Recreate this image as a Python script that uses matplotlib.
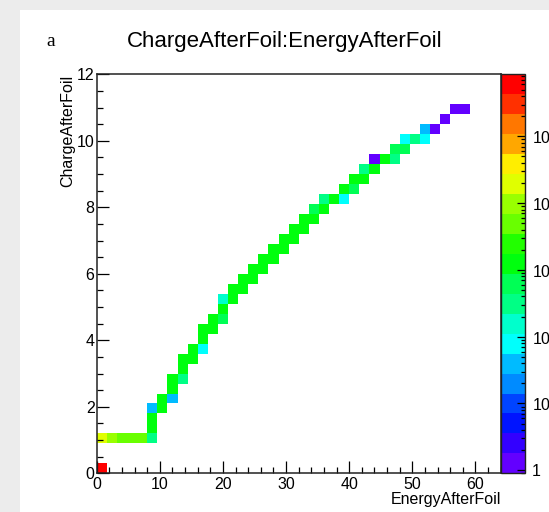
import colorsys
import numpy as np
import matplotlib
matplotlib.use("Agg")
import matplotlib.pyplot as plt
from matplotlib.colors import ListedColormap, LogNorm
from matplotlib.patches import Rectangle
from matplotlib.ticker import MultipleLocator, LogLocator, FuncFormatter, NullFormatter

plt.rcParams['font.family'] = ['Liberation Sans', 'DejaVu Sans']
plt.rcParams['mathtext.fontset'] = 'custom'
plt.rcParams['mathtext.rm'] = 'Liberation Sans'
plt.rcParams['mathtext.it'] = 'Liberation Sans:italic'
plt.rcParams['mathtext.default'] = 'regular'

# ---- data (bin centres and bin contents) ----
energy = [0.8, 0.8, 2.4, 4.0, 5.6, 7.2, 8.8, 8.8, 8.8, 8.8,
          10.4, 10.4, 12.0, 12.0, 12.0, 13.6, 13.6, 13.6, 15.2, 15.2,
          16.8, 16.8, 16.8, 18.4, 18.4, 20.0, 20.0, 20.0, 21.6, 21.6,
          23.2, 23.2, 24.8, 24.8, 26.4, 26.4, 28.0, 28.0, 29.6, 29.6,
          31.2, 31.2, 32.8, 32.8, 34.4, 34.4, 36.0, 36.0, 37.6, 39.2,
          39.2, 40.8, 40.8, 42.4, 42.4, 44.0, 44.0, 45.6, 47.2, 47.2,
          48.8, 48.8, 50.4, 52.0, 52.0, 53.6, 55.2, 56.8, 58.4]
charge = [0.15, 1.05, 1.05, 1.05, 1.05, 1.05, 1.05, 1.35, 1.65, 1.95,
          1.95, 2.25, 2.25, 2.55, 2.85, 2.85, 3.15, 3.45, 3.45, 3.75,
          3.75, 4.05, 4.35, 4.35, 4.65, 4.65, 4.95, 5.25, 5.25, 5.55,
          5.55, 5.85, 5.85, 6.15, 6.15, 6.45, 6.45, 6.75, 6.75, 7.05,
          7.05, 7.35, 7.35, 7.65, 7.65, 7.95, 7.95, 8.25, 8.25, 8.25,
          8.55, 8.55, 8.85, 8.85, 9.15, 9.15, 9.45, 9.45, 9.45, 9.75,
          9.75, 10.05, 10.05, 10.05, 10.35, 10.35, 10.65, 10.95, 10.95]
counts = [620000, 20000, 10000, 5000, 5000, 5000, 300, 1200, 1200, 40,
          1200, 1200, 40, 1200, 1200, 300, 1200, 1200, 1200, 1200,
          80, 1200, 1200, 1200, 1200, 600, 1200, 160, 1200, 1200,
          1200, 1200, 1200, 1200, 1200, 1200, 1200, 1200, 1200, 1200,
          1200, 1200, 1200, 1200, 1200, 600, 1200, 300, 1200, 80,
          1200, 600, 1200, 1200, 300, 1200, 1, 1200, 300, 600,
          600, 80, 300, 80, 40, 1, 1, 1, 1]
z_range = (0.9, 8.5e5)
x_range = (0, 64)
y_range = (0, 12)
n_bins = 40
n_contours = 20

title = "ChargeAfterFoil:EnergyAfterFoil"
xlabel = "EnergyAfterFoil"
ylabel = "ChargeAfterFoil"
corner = "a"

# ---- ROOT "pretty" palette (violet -> red) ----
pal = []
for p in range(49):
    hue = 280 - (p + 1) * 280 / 50
    pal.append(colorsys.hls_to_rgb(hue / 360, 0.5, 1.0))
pal.append((1.0, 0.0, 0.0))
cmap = ListedColormap([pal[int((k + 0.99) * 50 / n_contours)] for k in range(n_contours)])

W, H, DPI = 549, 512, 100
fig = plt.figure(figsize=(W / DPI, H / DPI), dpi=DPI, facecolor='#ececec')
fig.add_artist(Rectangle((20 / W, 0), 1, (H - 10) / H, transform=fig.transFigure,
                         facecolor='white', edgecolor='none', zorder=-10))

ax = fig.add_axes([96.7 / W, (H - 473.3) / H, 404 / W, 399 / H])
xedges = np.linspace(x_range[0], x_range[1], n_bins + 1)
yedges = np.linspace(y_range[0], y_range[1], n_bins + 1)
h = ax.hist2d(energy, charge, bins=[xedges, yedges], weights=counts, cmap=cmap,
              norm=LogNorm(vmin=z_range[0], vmax=z_range[1]), cmin=0.5)
ax.set_xlim(*x_range)
ax.set_ylim(*y_range)
ax.xaxis.set_major_locator(MultipleLocator(10))
ax.xaxis.set_minor_locator(MultipleLocator(2))
ax.yaxis.set_major_locator(MultipleLocator(2))
ax.yaxis.set_minor_locator(MultipleLocator(0.5))
ax.tick_params(which='both', direction='in', top=False, right=False,
               labelsize=11.5, colors='black')
ax.tick_params(which='major', length=8.5, width=0.9)
ax.tick_params(which='minor', length=4.3, width=0.9)
ax.tick_params(axis='x', pad=3)
ax.tick_params(axis='y', pad=1.5)
for s in ax.spines.values():
    s.set_linewidth(1.1)
    s.set_color('#222222')


def zfmt(v, pos):
    e = int(round(np.log10(v)))
    return "1" if e == 0 else r"$10^{%d}$" % e


cax = fig.add_axes([500.7 / W, (H - 473.3) / H, 24.3 / W, 399 / H])
cb = fig.colorbar(h[3], cax=cax)
cb.outline.set_linewidth(1.0)
cb.outline.set_edgecolor('#222222')
cax.yaxis.set_major_locator(LogLocator(base=10))
cax.yaxis.set_minor_locator(LogLocator(base=10, subs=np.arange(2, 10)))
cax.yaxis.set_major_formatter(FuncFormatter(zfmt))
cax.yaxis.set_minor_formatter(NullFormatter())
cax.tick_params(which='both', direction='in', right=True, left=False, labelsize=11.5, pad=5)
cax.tick_params(which='major', length=6, width=0.9)
cax.tick_params(which='minor', length=3, width=0.9)

fig.text(284.5 / W, (H - 42) / H, title, ha='center', va='center', fontsize=16)
fig.text(51 / W, (H - 42) / H, corner, ha='center', va='center', fontsize=14,
         family='Liberation Serif')
fig.text(68 / W, (H - 75) / H, ylabel, rotation=90, ha='center', va='top', fontsize=11.5)
fig.text(500.7 / W, (H - 499.5) / H, xlabel, ha='right', va='center', fontsize=11.5)

fig.savefig('out.png', dpi=DPI, facecolor=fig.get_facecolor())
